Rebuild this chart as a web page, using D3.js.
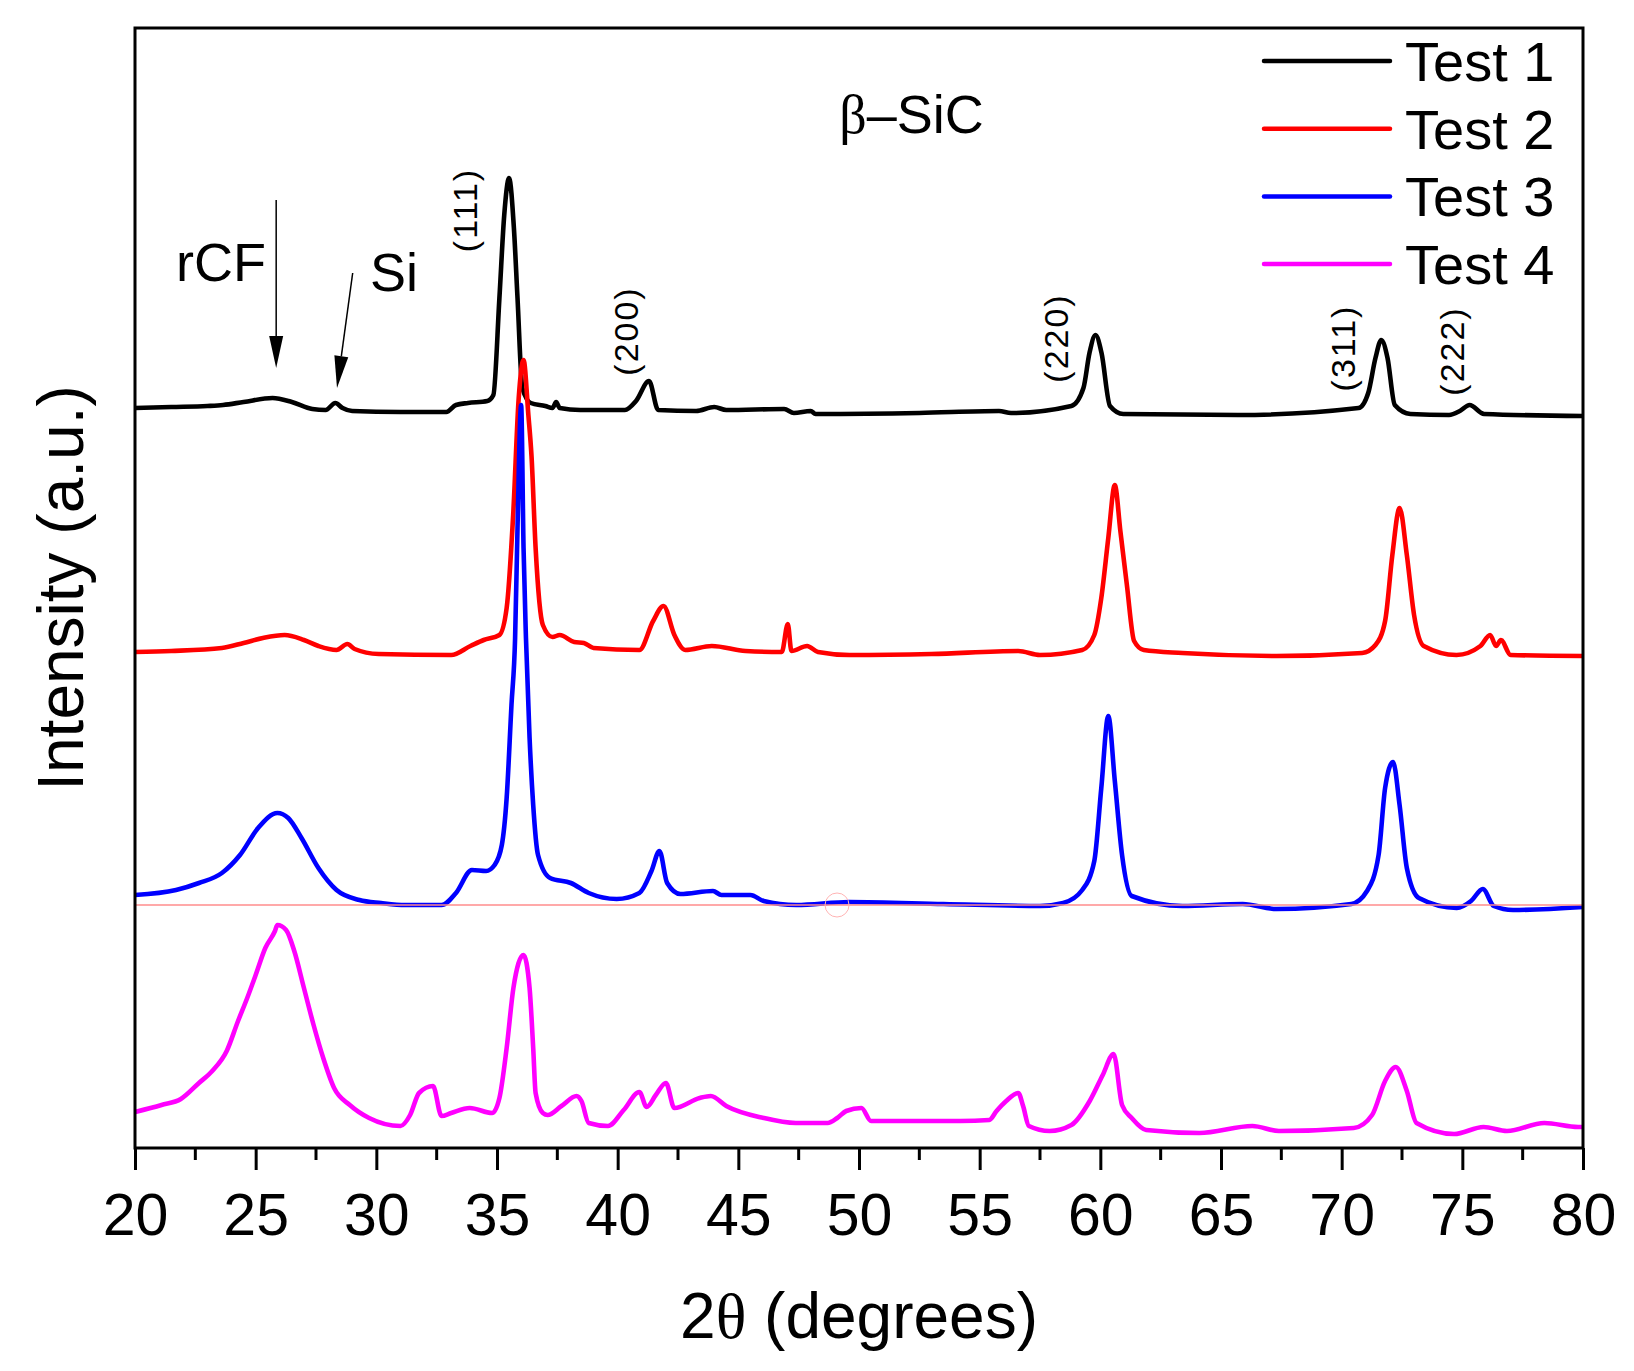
<!DOCTYPE html>
<html>
<head>
<meta charset="utf-8">
<script src="https://cdn.jsdelivr.net/npm/d3@7"></script>
<style>
  body { margin: 0; background: #fff; }
  text { font-family: "Liberation Sans", Arial, sans-serif; fill: #000; }
</style>
</head>
<body>
<svg id="chart" width="1634" height="1371"></svg>
<script>
// 2theta (deg), intensity (a.u., curves already stacked)
var test1 = [[20.0,740],[21.5,741],[23.0,742],[23.65,743],[24.5,746],[25.7,750],[26.5,746],[27.35,739],[27.9,738],[28.3,745],[28.6,740],[29.0,737],[31.0,736],[32.9,736],[33.3,743],[33.8,745],[34.6,747],[34.85,753],[35.1,850],[35.3,933],[35.5,970],[35.7,920],[35.85,850],[36.05,760],[36.4,745],[37.0,742],[37.3,740],[37.45,746],[37.6,740],[38.45,738],[40.3,738],[40.76,747],[41.3,767],[41.68,738],[43.25,737],[44.0,741],[44.5,738],[46.9,739],[47.3,735],[48.0,737],[48.2,734],[52.5,735],[55.8,737],[56.3,735],[58.8,742],[59.3,760],[59.55,795],[59.8,813],[60.05,795],[60.4,742],[60.95,734],[65.7,733],[70.7,740],[71.1,755],[71.4,790],[71.64,808],[71.9,790],[72.2,743],[72.85,734],[74.45,733],[74.9,737],[75.3,743],[75.9,734],[80.0,732]];

var test2 = [[20.0,496],[21.5,497],[23.6,500],[24.5,505],[25.3,510],[26.2,513],[27.0,508],[27.6,502],[28.35,498],[28.8,504],[29.1,499],[30.1,494],[33.1,493],[33.9,502],[34.45,508],[35.1,513],[35.4,540],[35.67,633],[35.9,750],[36.1,788],[36.3,733],[36.43,692],[36.6,600],[36.9,523],[37.3,511],[37.6,513],[38.2,506],[38.6,505],[39.0,500],[40.9,498],[41.47,527],[41.9,542],[42.35,513],[42.8,498],[43.9,502],[45.3,497],[46.8,496],[47.05,524],[47.2,497],[47.85,502],[48.3,496],[49.6,493],[53.0,494],[56.6,497],[57.5,493],[59.25,498],[59.75,513],[60.04,550],[60.33,610],[60.6,663],[60.83,617],[61.1,563],[61.4,507],[61.8,498],[63.4,495],[67.3,492],[70.85,495],[71.4,503],[71.8,527],[72.1,593],[72.4,640],[72.7,593],[73.0,533],[73.4,502],[74.76,493],[75.75,502],[76.15,513],[76.4,502],[76.6,508],[77.0,493],[80.0,492]];

var test3 = [[20.0,253],[21.7,258],[22.65,265],[23.6,275],[24.35,293],[25.1,320],[25.9,335],[26.35,330],[26.9,310],[27.6,280],[28.35,258],[29.3,248],[30.2,245],[31.2,243],[32.7,243],[33.3,255],[33.96,278],[34.55,277],[34.9,283],[35.2,303],[35.4,350],[35.6,443],[35.75,510],[35.85,620],[36.0,743],[36.1,600],[36.2,510],[36.35,410],[36.5,343],[36.7,293],[37.2,270],[38.06,265],[38.8,255],[39.96,249],[40.9,255],[41.4,277],[41.73,297],[42.05,265],[42.6,254],[43.95,257],[44.3,253],[45.5,253],[46.05,247],[47.4,243],[49.6,246],[53.5,244],[57.5,242],[58.46,245],[59.25,258],[59.75,287],[60.04,360],[60.33,432],[60.6,367],[60.9,293],[61.3,252],[63.4,242],[65.9,244],[67.3,239],[70.4,244],[71.05,257],[71.53,293],[71.8,360],[72.13,386],[72.4,343],[72.7,280],[73.2,250],[74.77,240],[75.36,247],[75.85,259],[76.3,242],[77.1,238],[80.0,241]];

var test4 = [[20.0,36],[21.1,43],[21.9,49],[22.65,65],[23.2,77],[23.8,97],[24.27,127],[24.65,150],[25.0,173],[25.4,200],[25.8,217],[25.9,223],[26.26,218],[26.6,197],[27.0,160],[27.4,123],[27.8,90],[28.25,60],[28.9,43],[29.7,30],[31.0,22],[31.4,33],[31.77,55],[32.35,62],[32.7,32],[33.1,35],[33.87,40],[34.8,35],[35.1,50],[35.4,100],[35.68,160],[36.1,193],[36.35,160],[36.5,100],[36.6,55],[36.9,35],[37.1,33],[37.67,42],[38.3,52],[38.5,47],[38.8,25],[39.6,22],[40.25,38],[40.9,56],[41.2,41],[41.58,53],[42.0,65],[42.35,40],[43.4,50],[43.86,52],[44.5,42],[46.05,30],[47.38,25],[48.7,25],[49.1,30],[49.47,37],[50.1,40],[50.5,27],[54.2,27],[55.4,28],[55.7,37],[56.1,47],[56.6,55],[56.8,42],[57.04,22],[57.9,17],[58.8,23],[59.56,47],[60.1,73],[60.55,94],[60.9,43],[61.3,30],[61.9,18],[64.1,15],[66.3,22],[67.4,17],[70.5,20],[71.26,33],[71.8,67],[72.24,81],[72.7,57],[73.1,25],[74.66,14],[75.88,21],[76.85,17],[78.4,25],[79.8,21],[80.0,21]];

var seriesNames = ["Test 1", "Test 2", "Test 3", "Test 4"];
var seriesColors = ["#000000", "#ff0000", "#0000ff", "#ff00ff"];
var xTicks = [20, 25, 30, 35, 40, 45, 50, 55, 60, 65, 70, 75, 80];

// hkl labels of beta-SiC: [label, 2theta, intensity]
var hklLabels = [["(111)", 34.17, 938], ["(200)", 40.85, 817], ["(220)", 58.67, 810], ["(311)", 70.56, 800], ["(222)", 75.08, 797]];

// stray baseline + marker left in the figure
var baselineValue = 243;
var markerAngle = 49.09;

var margin = {top: 28, right: 51, bottom: 223, left: 135};
var width = 1634 - margin.left - margin.right;
var height = 1371 - margin.top - margin.bottom;

var svg = d3.select("#chart");
var g = svg.append("g").attr("transform", "translate(" + margin.left + "," + margin.top + ")");

var x = d3.scaleLinear().domain([20, 80]).range([0, width]);
var y = d3.scaleLinear().domain([0, 1120]).range([height, 0]);

var line = d3.line()
  .x(function(d) { return x(d[0]); })
  .y(function(d) { return y(d[1]); })
  .curve(d3.curveMonotoneX);

[test1, test2, test3, test4].forEach(function(s, i) {
  g.append("path")
    .datum(s)
    .attr("d", line)
    .attr("fill", "none")
    .attr("stroke", seriesColors[i])
    .attr("stroke-width", 4.6)
    .attr("stroke-linejoin", "round");
});

g.append("line")
  .attr("x1", 0).attr("x2", width)
  .attr("y1", y(baselineValue)).attr("y2", y(baselineValue))
  .attr("stroke", "#ff8c8c").attr("stroke-width", 1.5);
g.append("circle")
  .attr("cx", x(markerAngle)).attr("cy", y(baselineValue)).attr("r", 12)
  .attr("fill", "none").attr("stroke", "#ffb4b4").attr("stroke-width", 1);

// frame
g.append("rect")
  .attr("width", width).attr("height", height)
  .attr("fill", "none").attr("stroke", "#000").attr("stroke-width", 3);

// x axis
var xAxis = d3.axisBottom(x).tickValues(xTicks).tickSize(22).tickPadding(23).tickFormat(d3.format("d"));
var ax = g.append("g").attr("transform", "translate(0," + height + ")").call(xAxis);
ax.select(".domain").remove();
ax.selectAll(".tick line").attr("stroke-width", 3);
ax.selectAll(".tick text").attr("font-size", 59).attr("font-family", "Liberation Sans, Arial, sans-serif");

var minor = d3.range(22.5, 80, 5);
ax.selectAll(".minor").data(minor).enter().append("line")
  .attr("x1", function(d) { return x(d); }).attr("x2", function(d) { return x(d); })
  .attr("y1", 0).attr("y2", 12)
  .attr("stroke", "#000").attr("stroke-width", 3);

// axis titles
var xt = svg.append("text")
  .attr("x", margin.left + width / 2).attr("y", 1338)
  .attr("text-anchor", "middle").attr("font-size", 64);
xt.append("tspan").text("2");
xt.append("tspan").attr("font-family", "Liberation Serif, Times New Roman, serif").text("\u03b8");
xt.append("tspan").text(" (degrees)");

svg.append("text")
  .attr("transform", "translate(83," + (margin.top + height / 2) + ") rotate(-90)")
  .attr("text-anchor", "middle").attr("font-size", 64)
  .text("Intensity (a.u.)");

// annotations
g.append("text").attr("x", x(21.7)).attr("y", y(867)).attr("font-size", 54).text("rCF");
g.append("text").attr("x", x(29.74)).attr("y", y(857)).attr("font-size", 54).text("Si");

var beta = g.append("text").attr("x", x(49.18)).attr("y", y(1015)).attr("font-size", 54);
beta.append("tspan").attr("font-family", "Liberation Serif, Times New Roman, serif").text("\u03b2");
beta.append("tspan").text("\u2013SiC");

hklLabels.forEach(function(d) {
  g.append("text")
    .attr("transform", "translate(" + x(d[1]) + "," + y(d[2]) + ") rotate(-90)")
    .attr("text-anchor", "middle").attr("font-size", 34)
    .attr("letter-spacing", 2)
    .text(d[0]);
});

function arrow(x0, v0, x1, v1) {
  var ax0 = x(x0), ay0 = y(v0), ax1 = x(x1), ay1 = y(v1);
  var dx = ax1 - ax0, dy = ay1 - ay0, len = Math.sqrt(dx * dx + dy * dy);
  var ux = dx / len, uy = dy / len, hl = 32, hw = 7;
  var bx = ax1 - ux * hl, by = ay1 - uy * hl;
  g.append("line").attr("x1", ax0).attr("y1", ay0).attr("x2", bx).attr("y2", by)
    .attr("stroke", "#000").attr("stroke-width", 1.5);
  g.append("path")
    .attr("d", "M" + ax1 + "," + ay1 + "L" + (bx - uy * hw) + "," + (by + ux * hw) + "L" + (bx + uy * hw) + "," + (by - ux * hw) + "Z")
    .attr("fill", "#000");
}
arrow(25.85, 948, 25.85, 780);
arrow(29.02, 875, 28.37, 760);

// legend
var leg = svg.append("g").attr("transform", "translate(1264,61)");
seriesNames.forEach(function(name, i) {
  var row = leg.append("g").attr("transform", "translate(0," + (i * 67.7) + ")");
  row.append("line").attr("x1", 0).attr("x2", 126).attr("y1", 0).attr("y2", 0)
    .attr("stroke", seriesColors[i]).attr("stroke-width", 4.5).attr("stroke-linecap", "round");
  row.append("text").attr("x", 141).attr("y", 20).attr("font-size", 56).text(name);
});
</script>
</body>
</html>
